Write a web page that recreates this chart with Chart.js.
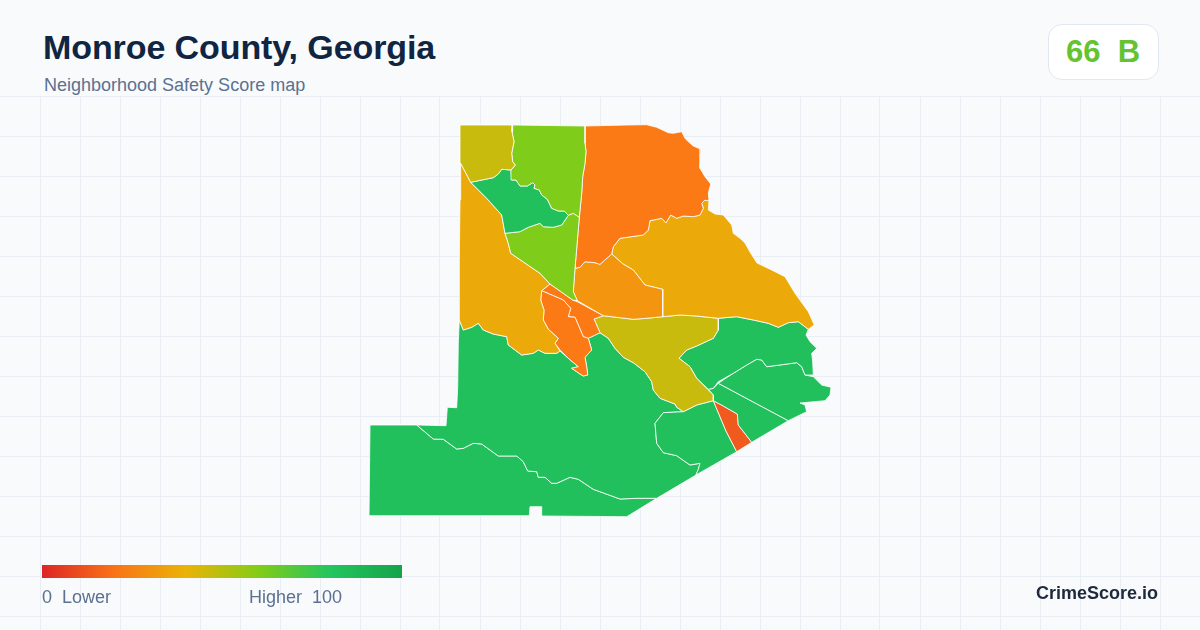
<!DOCTYPE html>
<html><head><meta charset="utf-8">
<style>
html,body{margin:0;padding:0;width:1200px;height:630px;overflow:hidden;background:#f8fafc;font-family:"Liberation Sans",Arial,sans-serif}
#c{position:absolute;left:0;top:96px}
.t{position:absolute;white-space:pre;line-height:1}
#title{left:43px;top:30px;font-size:34px;font-weight:700;color:#0f2542;letter-spacing:-.09px}
#sub{left:44px;top:76px;font-size:18px;color:#5b7191}
#badge{position:absolute;left:1048px;top:24px;width:109px;height:54px;background:#fff;border:1px solid #e2e8f0;border-radius:14px;box-sizing:content-box}
#score{left:1066px;top:36px;font-size:31px;font-weight:700;color:#65c332}
#bar{position:absolute;left:42px;top:565px;width:360px;height:13px;background:linear-gradient(90deg,#dc2626 0%,#f97316 20%,#eab308 40%,#84cc16 60%,#22c55e 80%,#16a34a 100%)}
.leg{font-size:18px;color:#5b7191;top:588px}
#brand{left:1036px;top:584px;font-size:18px;font-weight:700;color:#1e293b}
</style></head><body>
<canvas id="c" width="1200" height="534"></canvas>
<div class="t" id="title">Monroe County, Georgia</div>
<div class="t" id="sub">Neighborhood Safety Score map</div>
<div id="badge"></div><div class="t" id="score">66  B</div>
<div id="bar"></div>
<div class="t leg" style="left:42px">0  Lower</div>
<div class="t leg" style="left:249px">Higher  100</div>
<div class="t" id="brand">CrimeScore.io</div>
<script src="https://cdn.jsdelivr.net/npm/chart.js@4/dist/chart.umd.min.js"></script>
<script>
// Map axis extents and grid tick labels
const xRange = [0, 1200];
const yRange = [96, 630];
const gridStep = 40;

// Neighborhood outlines, in map units
const northwestTract = [[460,125],[512.7,125],[512,131.7],[514,141.7],[511.7,153.3],[512.7,161.7],[515.3,165],[511,170],[501.7,169.3],[498.3,174],[493.3,177.7],[470.7,182.3],[460.7,163.3]];
const northLimeTract = [[512.7,125],[585,126],[585,143.3],[586,151.7],[585,163.3],[582.7,176.7],[581.7,193.3],[579.3,217.3],[573.3,213.3],[568.3,215.3],[564.3,211],[558.3,211],[551.7,208.3],[549.3,203.3],[547.3,199.3],[541.7,195],[539.3,190],[534,188.3],[535,185],[532.7,182.7],[527.3,186],[520,186],[516,180],[511.7,180],[511,170],[515.3,165],[512.7,161.7],[511.7,153.3],[514,141.7],[512,131.7]];
const ridgeTract = [[470.7,182.3],[493.3,177.7],[498.3,174],[501.7,169.3],[511,170],[511.7,180],[516,180],[520,186],[527.3,186],[532.7,182.7],[535,185],[534,188.3],[539.3,190],[541.7,195],[547.3,199.3],[549.3,203.3],[551.7,208.3],[558.3,211],[564.3,211],[568.3,215.3],[561.7,225],[553.3,227.3],[543.3,226.7],[540,223.3],[528.3,227.3],[520,231.7],[505,233.3],[501.7,215],[486.7,198.3]];
const midLimeTract = [[505,233.3],[520,231.7],[528.3,227.3],[540,223.3],[543.3,226.7],[553.3,227.3],[561.7,225],[568.3,215.3],[573.3,213.3],[579.3,217.3],[576,256.7],[575,268.3],[573.3,291.7],[577.3,300.7],[572.7,300],[550,284],[540,273.3],[510.7,253.3],[508.3,243.3]];
const northeastTract = [[585,126],[626.7,125],[646.7,124.7],[656.7,127.3],[668.3,132.7],[673.3,133.3],[681.7,131.7],[685,138.3],[688.3,141.7],[693.3,146],[701,149.3],[700,160],[700,168.3],[705,176.7],[710.7,184],[708.3,193.3],[709,200],[706.7,200.7],[705,200],[701.7,203.3],[703.3,208.3],[700,215],[693.3,216.7],[683.3,216],[676.7,218.3],[670.7,215],[666,222.7],[661.7,218.3],[650,220.7],[648.3,230],[643.3,235],[620,238.3],[613.3,246.7],[611.7,254],[600,264.3],[595,262.7],[585,261.7],[580,267.3],[575,268.3],[576,256.7],[579.3,217.3],[581.7,193.3],[582.7,176.7],[585,163.3],[586,151.7],[585,143.3]];
const centralTract = [[575,268.3],[580,267.3],[585,261.7],[595,262.7],[600,264.3],[611.7,254],[623,264],[633.3,270],[645,285],[662.7,289.3],[662.7,316.7],[646.7,318.3],[633.3,319.3],[620,317.7],[603.3,315.7],[577.3,300.7],[573.3,291.7]];
const westTract = [[460.7,163.3],[470.7,182.3],[486.7,198.3],[501.7,215],[505,233.3],[508.3,243.3],[510.7,253.3],[540,273.3],[550,284],[541.7,290.7],[540.7,300],[544,310],[543.3,320],[548.3,329.3],[558.3,338.3],[555,343.3],[560,351],[556.7,353.3],[545,353.3],[538.3,350],[533.3,353.3],[521.7,355],[508.3,345],[506.7,336.7],[493.3,334],[483.3,330],[478.3,323.3],[471.7,327.3],[463.3,330],[459.3,320],[459.3,260],[460,200]];
const riverWestTract = [[541.7,290.7],[563.3,300],[570.7,308.3],[568.3,316.7],[575,317.3],[583.3,336.7],[588.3,338.3],[591.7,350],[585,357.3],[586.7,366.7],[587.7,375],[583.3,376],[580,374],[576.7,371.7],[571.7,368.3],[578.3,366.7],[568.3,358.3],[560,350],[555,343.3],[558.3,338.3],[548.3,329.3],[543.3,320],[544,310],[540.7,300]];
const riverEastTract = [[541.7,290.7],[550,284],[572.7,300],[577.3,301.7],[603.3,315.7],[594,319],[600,332.7],[588.3,338.3],[583.3,336.7],[575,317.3],[568.3,316.7],[570.7,308.3],[563.3,300]];
const eastUplandTract = [[611.7,254],[613.3,246.7],[620,238.3],[643.3,235],[648.3,230],[650,220.7],[661.7,218.3],[666,222.7],[670.7,215],[676.7,218.3],[683.3,216],[693.3,216.7],[700,215],[703.3,208.3],[701.7,203.3],[705,200],[706.7,200.7],[709,200],[708.3,210],[715,214],[723.3,215],[731.7,225],[733.3,233.3],[740,238.3],[745,243],[750,252],[757,263],[771.7,270],[785,276.7],[795,293.3],[808.3,311.7],[814.3,325],[808.3,329.3],[798.3,321.7],[788.3,322.7],[778.3,327.3],[768.3,323.3],[753.3,320],[736.7,316.7],[718.3,318.3],[696.7,316],[680,315],[662.7,316.7],[662.7,289.3],[645,285],[633.3,270],[623,264]];
const centerOliveTract = [[594,319],[603.3,315.7],[620,317.7],[633.3,319.3],[646.7,318.3],[662.7,316.7],[680,315],[696.7,316],[718.3,318.3],[718.3,330],[713.3,338.3],[696.7,346],[686.7,350],[679,358.3],[690,366.7],[696.7,378.3],[713.3,395],[713.3,400.7],[696.7,405],[683.3,411.7],[676.7,407.3],[675,404],[660,398.3],[653.3,390],[651.7,381.7],[645,371.7],[633.3,362.7],[623.3,357.3],[615,348.3],[608.3,338.3],[600,332.7]];
const eastGreenTract = [[718.3,318.3],[736.7,316.7],[753.3,320],[768.3,323.3],[778.3,327.3],[788.3,322.7],[798.3,321.7],[808.3,329.3],[806,335],[810,341.7],[816.7,348.3],[811.7,353.3],[812.7,361.7],[813.3,375],[805,375],[801.7,366.7],[796.7,362.7],[780,365],[766.7,366.7],[761.7,360],[756.7,359.3],[746.7,365],[733.3,373.3],[718.3,381.7],[713.3,388.3],[708.3,389.3],[696.7,378.3],[690,366.7],[679,358.3],[686.7,350],[696.7,346],[713.3,338.3],[718.3,330]];
const capeTract = [[718.3,383.3],[733.3,373.3],[746.7,365],[756.7,359.3],[761.7,360],[766.7,366.7],[780,365],[796.7,362.7],[801.7,366.7],[805,375],[813.3,376.7],[821.7,385],[831,387.3],[830,395],[825,400.7],[800,403],[805,405],[806.7,411.7],[788.3,420.7]];
const shoreWedgeTract = [[718.3,383.3],[788.3,420.7],[751.7,442.3],[738.3,425],[737.3,414],[723.3,406],[713.3,400.7],[713.3,395],[708.3,389.3],[713.3,388.3]];
const redStripTract = [[713.3,400.7],[723.3,406],[737.3,414],[738.3,425],[751.7,442.3],[736.7,451.7],[726,431]];
const southPocketTract = [[683.3,411.7],[696.7,405],[713.3,400.7],[726,431],[736.7,451.7],[696,475],[698.3,469.3],[700,463.3],[690,465],[676.7,455.7],[663.3,452.7],[656.7,443.3],[655,423.3],[663.3,412.7]];
const mainGreenTract = [[459.3,320],[463.3,330],[471.7,327.3],[478.3,323.3],[483.3,330],[493.3,334],[506.7,336.7],[508.3,345],[521.7,355],[533.3,353.3],[538.3,350],[545,353.3],[556.7,353.3],[560,351],[568.3,358.3],[578.3,366.7],[571.7,368.3],[576.7,371.7],[580,374],[583.3,376],[587.7,375],[586.7,366.7],[585,357.3],[591.7,350],[588.3,338.3],[600,332.7],[608.3,338.3],[615,348.3],[623.3,357.3],[633.3,362.7],[645,371.7],[651.7,381.7],[653.3,390],[660,398.3],[675,404],[676.7,407.3],[683.3,411.7],[663.3,412.7],[655,423.3],[656.7,443.3],[663.3,452.7],[676.7,455.7],[690,465],[700,463.3],[698.3,469.3],[696,475],[656.7,498.3],[636.7,498.3],[620,499],[593.3,489.3],[578.3,479.3],[570,477.3],[556.7,483.3],[551.7,483.3],[545,477.3],[538.3,477.3],[536.7,471.7],[527.7,471],[523.3,461.7],[516.7,456],[498.3,456],[481.7,444],[473.3,443.3],[463.3,448.3],[456.7,449],[443.3,439.3],[433.3,439],[416.7,425],[446,425.7],[447.3,407.3],[456.7,407.7],[457.7,386.7],[458.3,343]];
const southwestTract = [[416.7,425],[433.3,439],[443.3,439.3],[456.7,449],[463.3,448.3],[473.3,443.3],[481.7,444],[498.3,456],[516.7,456],[523.3,461.7],[527.7,471],[536.7,471.7],[538.3,477.3],[545,477.3],[551.7,483.3],[556.7,483.3],[570,477.3],[578.3,479.3],[593.3,489.3],[620,499],[636.7,498.3],[656.7,498.3],[626.7,516.7],[541,516],[541.7,506.7],[530,506.7],[529.3,515.7],[369,515.7],[370,425]];

// Fill colour per neighborhood, from the score ramp
const tractNames = ["Northwest","North lime","Ridge","Mid lime","Northeast","Central","West","River west","River east","East upland","Center olive","East green","Cape","Shore wedge","Red strip","South pocket","Main green","Southwest"];
const tractShapes = [northwestTract,northLimeTract,ridgeTract,midLimeTract,northeastTract,centralTract,westTract,riverWestTract,riverEastTract,eastUplandTract,centerOliveTract,eastGreenTract,capeTract,shoreWedgeTract,redStripTract,southPocketTract,mainGreenTract,southwestTract];
const tractColors = ["#c8bb0e","#7fcc1a","#22c05c","#7fcc1a","#fb7a15","#f4950f","#ecaa0a","#fb7a15","#fb7a15","#ecaa0a","#c8bb0e","#22c05c","#22c05c","#22c05c","#f05a1e","#22c05c","#22c05c","#22c05c"];

const gridColor = "#e8eef3";
const datasets = tractShapes.map((shape,i)=>({
  label: tractNames[i],
  data: shape.concat([shape[0]]).map(([x,y])=>({x,y})),
  showLine:true, fill:"shape", tension:0, pointRadius:0,
  backgroundColor:tractColors[i], borderColor:"#ffffff", borderWidth:0.8, borderJoinStyle:"round", clip:false
}));
const gridScale = (range,first,reverse)=>({
  type:"linear", min:range[0], max:range[1], reverse,
  border:{display:false},
  grid:{color:gridColor,lineWidth:1,drawTicks:false},
  ticks:{display:false},
  afterBuildTicks(s){ const t=[]; for(let v=first;v<range[1];v+=gridStep) t.push({value:v}); s.ticks=t; },
  afterFit(s){ if(s.isHorizontal()) s.height=0; else s.width=0; }
});
new Chart(document.getElementById("c"),{
  type:"scatter",
  data:{datasets},
  options:{
    responsive:false, animation:false, devicePixelRatio:1,
    layout:{padding:0},
    plugins:{legend:{display:false},tooltip:{enabled:false},title:{display:false}},
    scales:{ x:gridScale(xRange,gridStep,false), y:gridScale(yRange,yRange[0],true) }
  }
});
</script>
</body></html>
